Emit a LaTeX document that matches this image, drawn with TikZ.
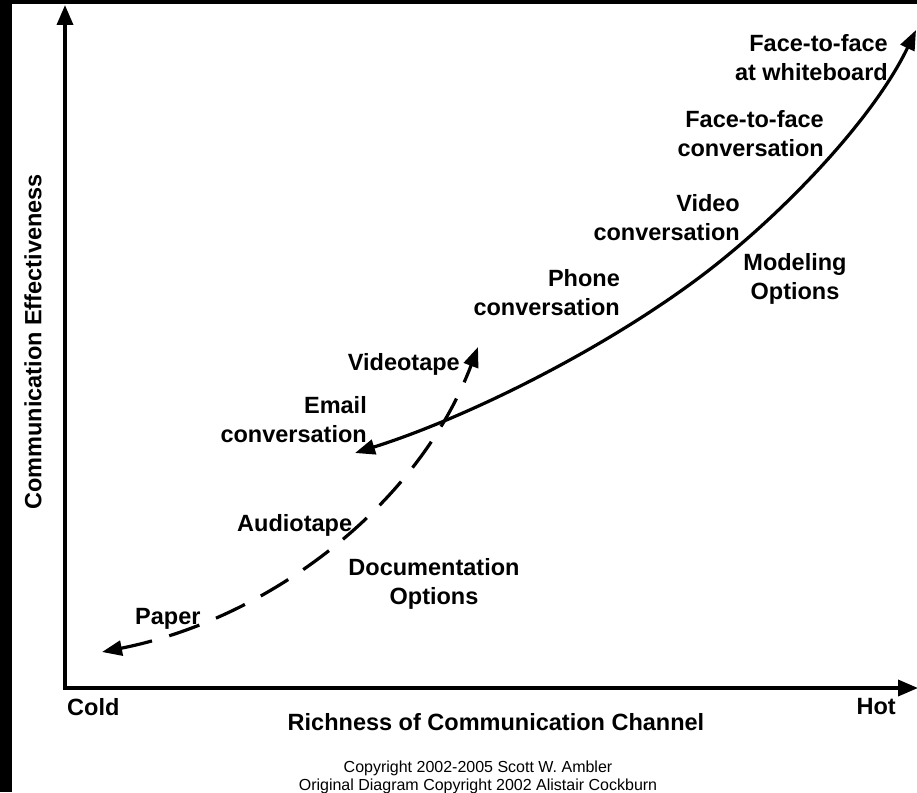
\documentclass[tikz,border=0pt]{standalone}
\usepackage{fontspec}
\setmainfont{Liberation Sans}
\usetikzlibrary{arrows.meta,positioning}

\begin{document}
\begin{tikzpicture}[x=1pt,y=-1pt,
		lbl/.style={font=\bfseries\fontsize{23.5}{29}\selectfont, inner sep=0pt, align=right},
		note/.style={font=\fontsize{16}{17.3}\selectfont, inner sep=0pt, align=center},
		axis/.style={line width=3.5pt, line join=miter, {Triangle[length=20pt,width=16pt]}-{Triangle[length=20pt,width=16pt]}},
		curve/.style={line width=3.2pt, {Triangle[length=20pt,width=15pt]}-{Triangle[length=20pt,width=15pt]}}]
		\useasboundingbox (0,0) rectangle (917,792);
		\fill [black] (0,0) rectangle (917,792);
		\fill [white] (12,4) rectangle (917,792);
		% axes
		\coordinate (org) at (65,688);
		\coordinate (ytip) at (65,5);
		\coordinate (xtip) at (918,688);
		\path [draw,axis] (ytip) -- (org) -- (xtip);
		\node (ylab) at (33,342) [lbl, rotate=90, align=center] {Communication Effectiveness};
		\node (cold) at (67,698) [lbl, anchor=north west] {Cold};
		\node (hot) at (896,698) [lbl, anchor=north east] {Hot};
		\node (xlab) at (496,713) [lbl, anchor=north, align=center] {Richness of Communication Channel};
		\node (copy) at (478,761) [note, anchor=north] {Copyright 2002-2005 Scott W. Ambler\\Original Diagram Copyright 2002 Alistair Cockburn};
		% modeling options
		\node (fw) at (888,34) [lbl, anchor=north east] {Face-to-face\\at whiteboard};
		\node (fc) at (824,110) [lbl, anchor=north east] {Face-to-face\\conversation};
		\node (vc) at (740,194) [lbl, anchor=north east] {Video\\conversation};
		\node (mo) at (795,253) [lbl, anchor=north, align=center] {Modeling\\Options};
		\node (pc) at (620,269) [lbl, anchor=north east] {Phone\\conversation};
		\node (ec) at (367,396) [lbl, anchor=north east] {Email\\conversation};
		\coordinate (mlow) at (355,453);
		\coordinate (mmid) at (700,277);
		\coordinate (mtop) at (916,30);
		\path [draw,curve] (mlow) .. controls (469,417) and (604,349) .. (mmid) .. controls (780,217) and (873,120) .. (mtop);
		% documentation options
		\node (vt) at (460,353) [lbl, anchor=north east] {Videotape};
		\node (at) at (237,514) [lbl, anchor=north west] {Audiotape};
		\node (do) at (434,558) [lbl, anchor=north, align=center] {Documentation\\Options};
		\node (pp) at (135,608) [lbl, anchor=north west] {Paper};
		\coordinate (dlow) at (102,652);
		\coordinate (dtop) at (478,347);
		\path [draw,curve,dash pattern=on 32pt off 18pt] (dlow) .. controls (269,619) and (418,506) .. (dtop);
	\end{tikzpicture}
\end{document}
